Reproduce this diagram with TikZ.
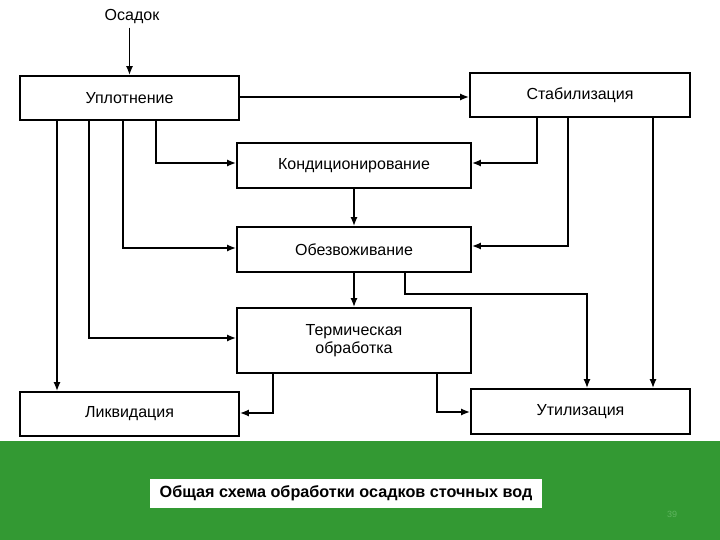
\documentclass[tikz,border=0pt]{standalone}
\usepackage{fontspec}
\setmainfont{Liberation Sans}
\usetikzlibrary{arrows.meta}
\definecolor{slidegreen}{RGB}{51,153,51}
\definecolor{pagegreen}{RGB}{95,180,95}
\tikzset{
  box/.style={draw, line width=1.8pt, rectangle, inner sep=0pt, align=center,
    font=\fontsize{16}{18}\selectfont},
  arr/.style={line width=1.5pt, -{Latex[length=9pt,width=7pt]}},
}
\begin{document}
\begin{tikzpicture}[x=1pt,y=-1pt]
\useasboundingbox (0,0) rectangle (720,540);
\fill[white] (0,0) rectangle (720,540);
% boxes
\node[box, minimum width=219pt, minimum height=44pt] (upl) at (129.5,98) {Уплотнение};
\node[box, minimum width=220pt, minimum height=44pt] (stab) at (580,95) {Стабилизация};
\node[box, minimum width=234pt, minimum height=45pt] (kond) at (354,165.5) {Кондиционирование};
\node[box, minimum width=234pt, minimum height=45pt] (obez) at (354,249.5) {Обезвоживание};
\node[box, minimum width=234pt, minimum height=65pt] (term) at (354,340.5) {Термическая\\обработка};
\node[box, minimum width=219pt, minimum height=44pt] (likv) at (129.5,414) {Ликвидация};
\node[box, minimum width=219pt, minimum height=45pt] (util) at (580.5,411.5) {Утилизация};
\node[font=\fontsize{16}{18}\selectfont] (osa) at (132,17) {Осадок};
% helper coordinates
\coordinate (xa) at (57,0);
\coordinate (xb) at (89,0);
\coordinate (xc) at (123,0);
\coordinate (xd) at (156,0);
\coordinate (xe) at (537,0);
\coordinate (xf) at (568,0);
\coordinate (xg) at (653,0);
\coordinate (xh) at (405,0);
\coordinate (xi) at (587,0);
\coordinate (xj) at (273,0);
\coordinate (xk) at (437,0);
\coordinate (ya) at (0,163);
\coordinate (yb) at (0,248);
\coordinate (yc) at (0,338);
\coordinate (yd) at (0,294);
\coordinate (ye) at (0,413);
\coordinate (yf) at (0,246);
\coordinate (yg) at (0,412);
\coordinate (yh) at (0,97);
% connectors
\draw[arr] (osa.south -| upl.north) -- (upl.north);
\draw[arr] (upl.east |- yh) -- (stab.west |- yh);
\draw[arr] (upl.south -| xd) |- (kond.west |- ya);
\draw[arr] (upl.south -| xc) |- (obez.west |- yb);
\draw[arr] (upl.south -| xb) |- (term.west |- yc);
\draw[arr] (upl.south -| xa) -- (likv.north -| xa);
\draw[arr] (stab.south -| xe) |- (kond.east |- ya);
\draw[arr] (stab.south -| xf) |- (obez.east |- yf);
\draw[arr] (stab.south -| xg) -- (util.north -| xg);
\draw[arr] (kond.south) -- (obez.north);
\draw[arr] (obez.south) -- (term.north);
\draw[arr] (obez.south -| xh) -- (xh |- yd) -| (util.north -| xi);
\draw[arr] (term.south -| xj) |- (likv.east |- ye);
\draw[arr] (term.south -| xk) |- (util.west |- yg);
% bottom band
\fill[slidegreen] (0,441) rectangle (720,540);
\node[fill=white, minimum width=392pt, minimum height=29pt, inner sep=0pt,
  font=\bfseries\fontsize{16.2}{18}\selectfont] (cap) at (346,493.5)
  {Общая схема обработки осадков сточных вод};
\node[text=pagegreen, font=\fontsize{9}{10}\selectfont] (pg) at (672,514) {39};
\end{tikzpicture}
\end{document}
